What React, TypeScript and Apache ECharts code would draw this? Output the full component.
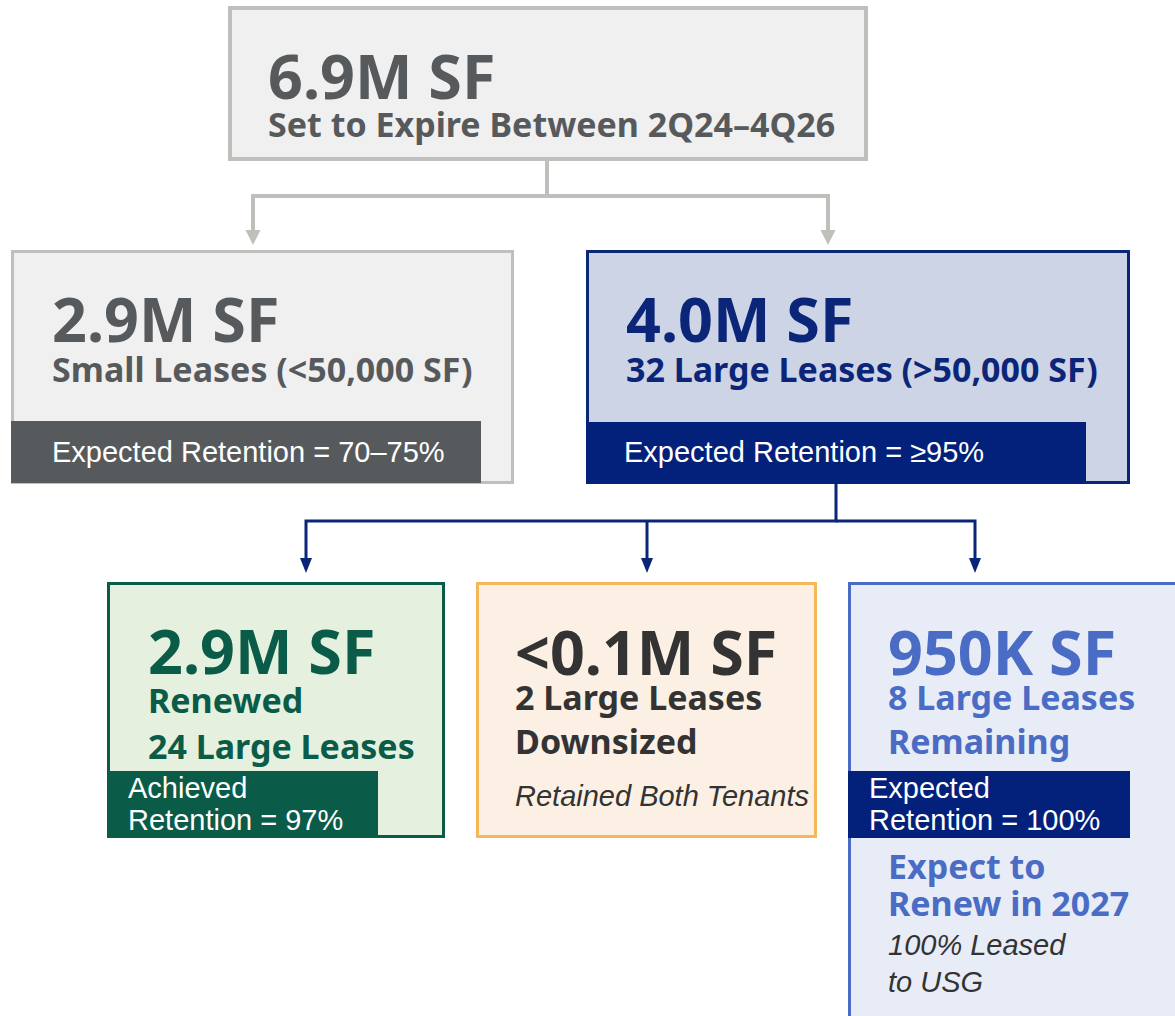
import React, { useEffect, useRef } from "react";
import * as echarts from "echarts";

// ---- content ----
const topTitle = ["6.9M SF", "Set to Expire Between 2Q24–4Q26"];
const smallTitle = ["2.9M SF", "Small Leases (<50,000 SF)"];
const smallBar = ["Expected Retention = 70–75%"];
const largeTitle = ["4.0M SF", "32 Large Leases (>50,000 SF)"];
const largeBar = ["Expected Retention = ≥95%"];
const renewedTitle = ["2.9M SF", "Renewed", "24 Large Leases"];
const renewedBar = ["Achieved", "Retention = 97%"];
const downTitle = ["<0.1M SF", "2 Large Leases", "Downsized"];
const downNote = ["Retained Both Tenants"];
const remainTitle = ["950K SF", "8 Large Leases", "Remaining"];
const remainBar = ["Expected", "Retention = 100%"];
const remainSub = ["Expect to", "Renew in 2027"];
const remainNote = ["100% Leased", "to USG"];

const HEAD = "'Noto Sans', Roboto, sans-serif";
const BODY = "'Liberation Sans', Arial, sans-serif";
const BIG = 61;
const MID = 34;
const SMALL = 29;

const GRAY_LINE = "#bfbfbb";
const GRAY_FILL = "#f0f0f0";
const GRAY_TEXT = "#575a5c";
const NAVY = "#0b2578";
const NAVY_BAR = "#03217a";
const GREEN = "#0b5b49";
const ORANGE = "#f4b75a";
const BLUE = "#4a6cc4";

function rect(x: number, y: number, w: number, h: number, fill: string, stroke?: string, lw = 0) {
  return {
    type: "rect",
    shape: { x, y, width: w, height: h },
    style: { fill, stroke: stroke || null, lineWidth: lw },
  };
}
function txt(
  text: string,
  x: number,
  y: number,
  size: number,
  color: string,
  weight: string = "bold",
  family = HEAD,
  italic = false
) {
  return {
    type: "text",
    x,
    y,
    style: {
      text,
      fill: color,
      fontSize: size,
      fontWeight: weight,
      fontStyle: italic ? "italic" : "normal",
      fontFamily: family,
      lineHeight: Math.round(size * 0.85),
      align: "left",
      verticalAlign: "middle",
    },
  };
}
function line(points: number[][], color: string, lw: number) {
  return {
    type: "polyline",
    shape: { points },
    style: { stroke: color, lineWidth: lw, fill: null },
  };
}
function arrowHead(x: number, yTip: number, w: number, h: number, color: string) {
  return {
    type: "polygon",
    shape: { points: [[x - w / 2, yTip - h], [x + w / 2, yTip - h], [x, yTip]] },
    style: { fill: color },
  };
}

export default function App() {
  const ref = useRef<HTMLDivElement>(null);
  useEffect(() => {
    document.body.style.margin = "0";
    const chart = echarts.init(ref.current!, null, { renderer: "svg" });
    const els: any[] = [];

    // top box
    els.push(rect(230, 8, 636, 151, GRAY_FILL, GRAY_LINE, 4));
    els.push(txt(topTitle[0], 268, 75, BIG, GRAY_TEXT));
    els.push(txt(topTitle[1], 268, 124, MID, GRAY_TEXT));

    // gray connector
    els.push(line([[547, 161], [547, 196], [253, 196], [253, 232]], GRAY_LINE, 4));
    els.push(line([[547, 196], [828, 196], [828, 232]], GRAY_LINE, 4));
    els.push(arrowHead(253, 245, 15, 15, GRAY_LINE));
    els.push(arrowHead(828, 245, 15, 15, GRAY_LINE));

    // small leases box
    els.push(rect(12.5, 251.5, 500, 231, GRAY_FILL, GRAY_LINE, 3));
    els.push(txt(smallTitle[0], 52, 318, BIG, GRAY_TEXT));
    els.push(txt(smallTitle[1], 52, 369, MID, GRAY_TEXT));
    els.push(rect(11, 421, 470, 62, GRAY_TEXT));
    els.push(txt(smallBar[0], 52, 452, SMALL, "#ffffff", "normal", BODY));

    // large leases box
    els.push(rect(587.5, 251.5, 541, 231, "#cdd4e5", NAVY, 3));
    els.push(txt(largeTitle[0], 626, 318, BIG, NAVY));
    els.push(txt(largeTitle[1], 626, 369, MID, NAVY));
    els.push(rect(586, 422, 500, 62, NAVY_BAR));
    els.push(txt(largeBar[0], 624, 452, SMALL, "#ffffff", "normal", BODY));

    // navy connector
    els.push(line([[836, 484], [836, 521], [306, 521], [306, 560]], NAVY, 3));
    els.push(line([[836, 521], [975, 521], [975, 560]], NAVY, 3));
    els.push(line([[647, 521], [647, 560]], NAVY, 3));
    els.push(arrowHead(306, 573, 12, 15, NAVY));
    els.push(arrowHead(647, 573, 12, 15, NAVY));
    els.push(arrowHead(975, 573, 12, 15, NAVY));

    // renewed box
    els.push(rect(108.5, 583.5, 335, 253, "#e5f1de", GREEN, 3));
    els.push(txt(renewedTitle[0], 148, 650, BIG, GREEN));
    els.push(txt(renewedTitle[1], 148, 700, MID, GREEN));
    els.push(txt(renewedTitle[2], 148, 746, MID, GREEN));
    els.push(rect(107, 771, 271, 67, GREEN));
    els.push(txt(renewedBar[0], 128, 788, SMALL, "#ffffff", "normal", BODY));
    els.push(txt(renewedBar[1], 128, 820, SMALL, "#ffffff", "normal", BODY));

    // downsized box
    els.push(rect(477.5, 583.5, 338, 253, "#fbf0e3", ORANGE, 3));
    els.push(txt(downTitle[0], 515, 651, BIG, "#333333"));
    els.push(txt(downTitle[1], 515, 697, MID, "#333333"));
    els.push(txt(downTitle[2], 515, 741, MID, "#333333"));
    els.push(txt(downNote[0], 515, 796, SMALL, "#333333", "normal", BODY, true));

    // remaining box
    els.push(rect(849.5, 583.5, 340, 450, "#e8ecf7", BLUE, 3));
    els.push(txt(remainTitle[0], 888, 651, BIG, BLUE));
    els.push(txt(remainTitle[1], 888, 697, MID, BLUE));
    els.push(txt(remainTitle[2], 888, 741, MID, BLUE));
    els.push(rect(848, 771, 282, 67, NAVY_BAR));
    els.push(txt(remainBar[0], 869, 788, SMALL, "#ffffff", "normal", BODY));
    els.push(txt(remainBar[1], 869, 820, SMALL, "#ffffff", "normal", BODY));
    els.push(txt(remainSub[0], 888, 866, MID, BLUE));
    els.push(txt(remainSub[1], 888, 903, MID, BLUE));
    els.push(txt(remainNote[0], 888, 945, SMALL, "#333333", "normal", BODY, true));
    els.push(txt(remainNote[1], 888, 982, SMALL, "#333333", "normal", BODY, true));

    chart.setOption({
      animation: false,
      backgroundColor: "#ffffff",
      graphic: { elements: els },
    });
    return () => chart.dispose();
  }, []);
  return <div ref={ref} style={{ width: 1175, height: 1016 }} />;
}
